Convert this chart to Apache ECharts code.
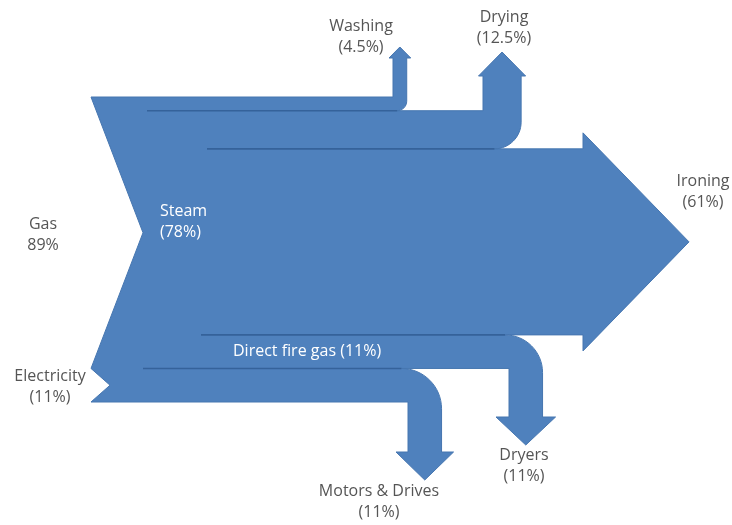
<!DOCTYPE html>
<html>
<head>
<meta charset="utf-8">
<script src="https://cdn.jsdelivr.net/npm/echarts@6/dist/echarts.min.js"></script>
<style>
  html, body { margin: 0; padding: 0; background: #fff; }
  #chart { width: 732px; height: 525px; }
</style>
</head>
<body>
<div id="chart"></div>
<script>
// energy flow, percent of total input
var sourceNames = ['Gas', 'Electricity'];
var sourceValues = [89, 11];
var midNames = ['Steam', 'Direct fire gas'];
var midValues = [78, 11];
var endNames = ['Washing', 'Drying', 'Ironing', 'Dryers', 'Motors & Drives'];
var endValues = [4.5, 12.5, 61, 11, 11];

var FILL = '#4f81bd';
var EDGE = '#4676b0';
var SEAM = '#35629a';
var TEXT = '#555555';
var FONT = '"Open Sans", sans-serif';
var K = 0.5523;

function fmt(n) { return n + '%'; }

function renderItem(params, api) {
  function yAt(v) { return api.coord([0, v])[1]; }

  // band edges, top to bottom: washing, drying, ironing, direct fire, motors
  var yT = yAt(0);
  var yW = yAt(endValues[0]);
  var yD = yAt(endValues[0] + endValues[1]);
  var yI = yAt(midValues[0]);
  var yF = yAt(midValues[0] + midValues[1]);
  var yB = yAt(sourceValues[0] + sourceValues[1]);
  var yGas = yAt(sourceValues[0]);

  var wW = yW - yT, wD = yD - yW, wF = yF - yI, wM = yB - yF;

  var d = [];
  function M(x, y) { d.push('M' + x + ' ' + y); }
  function L(x, y) { d.push('L' + x + ' ' + y); }
  function C(a, b, c, e, f, g) { d.push('C' + [a, b, c, e, f, g].join(' ')); }

  // branch going up out of the top of a band
  function up(xL, w, bandBot, baseY, tipY, ex, r) {
    var xR = xL + w;
    L(xL, baseY); L(xL - ex, baseY); L(xL + w / 2, tipY);
    L(xR + ex, baseY); L(xR, baseY); L(xR, bandBot - r);
    C(xR, bandBot - r + K * r, xR - r + K * r, bandBot, xR - r, bandBot);
    return xR - r;
  }
  // branch going down out of the bottom of a band (traced right to left)
  function down(xL, w, bandTop, bandBot, baseY, tipY, ex, r) {
    var xR = xL + w;
    L(xR - r, bandTop);
    C(xR - r + K * r, bandTop, xR, bandTop + r - K * r, xR, bandTop + r);
    L(xR, baseY); L(xR + ex, baseY); L(xL + w / 2, tipY);
    L(xL - ex, baseY); L(xL, baseY); L(xL, bandBot);
    return xR - r;
  }

  var leftX = 91;
  M(leftX, yT);
  L(393, yT);
  var washEnd = up(393, wW, yW, 58, 47, 4, wW * 0.7);
  L(483, yW);
  var dryEnd = up(483, wD, yD, 76, 52, 4.5, wD * 0.7);
  // ironing head
  var headX = 583, tipX = 689, hx = 16;
  L(headX, yD); L(headX, yD - hx); L(tipX, (yD + yI) / 2);
  L(headX, yI + hx); L(headX, yI);
  var fireStart = down(509, wF, yI, yF, 417, 445, 13, wF * 1.12);
  var motStart = down(408, wM, yF, yB, 452, 480, 12, wM * 1.2);
  L(leftX, yB);
  L(110, (yGas + yB) / 2);
  L(leftX, yGas);
  L(143, (yT + yGas) / 2);
  d.push('Z');

  var children = [{
    type: 'path',
    shape: { pathData: d.join(' ') },
    style: { fill: FILL, stroke: EDGE, lineWidth: 1 }
  }];

  var seams = [[147, yW, washEnd], [207, yD, dryEnd], [201, yI, fireStart], [143, yF, motStart]];
  seams.forEach(function (s) {
    children.push({
      type: 'line',
      shape: { x1: s[0], y1: s[1], x2: s[2], y2: s[1] },
      style: { stroke: SEAM, lineWidth: 1.6 }
    });
  });

  function label(text, x, y, align, color) {
    children.push({
      type: 'text',
      x: x, y: y,
      style: {
        text: text, fill: color || TEXT, font: '16px ' + FONT,
        align: align || 'center', verticalAlign: 'middle', lineHeight: 21
      }
    });
  }

  label(sourceNames[0] + '\n' + fmt(sourceValues[0]), 43, 235);
  label(sourceNames[1] + '\n(' + fmt(sourceValues[1]) + ')', 50, 387);
  label(midNames[0] + '\n(' + fmt(midValues[0]) + ')', 160, 222, 'left', '#fff');
  label(midNames[1] + ' (' + fmt(midValues[1]) + ')', 233, 351, 'left', '#fff');
  label(endNames[0] + '\n(' + fmt(endValues[0]) + ')', 361, 37);
  label(endNames[1] + '\n(' + fmt(endValues[1]) + ')', 504, 28);
  label(endNames[2] + '\n(' + fmt(endValues[2]) + ')', 703, 192);
  label(endNames[3] + '\n(' + fmt(endValues[3]) + ')', 524, 466);
  label(endNames[4] + '\n(' + fmt(endValues[4]) + ')', 379, 502);

  return { type: 'group', children: children };
}

var chart = echarts.init(document.getElementById('chart'));
chart.setOption({
  animation: false,
  grid: { left: 0, right: 0, top: 97, bottom: 123 },
  xAxis: { type: 'value', min: 0, max: 732, show: false },
  yAxis: { type: 'value', min: 0, max: 100, inverse: true, show: false },
  series: [{
    type: 'custom',
    clip: false,
    renderItem: renderItem,
    data: [[0, 0]]
  }]
});
</script>
</body>
</html>
